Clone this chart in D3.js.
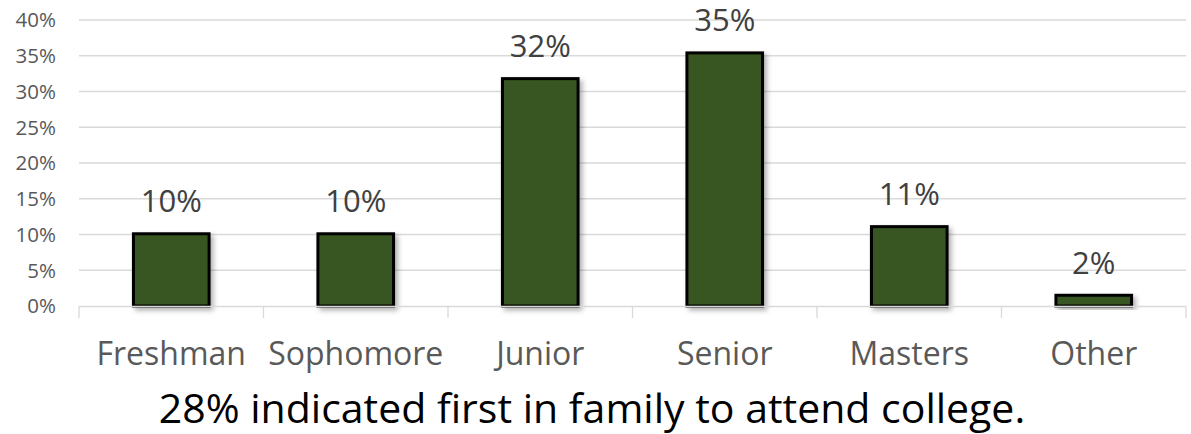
<!DOCTYPE html>
<html><head><meta charset="utf-8">
<script src="https://cdn.jsdelivr.net/npm/d3@7"></script>
<style>body{margin:0;background:#fff}svg{display:block}</style>
</head><body>
<svg id="chart" width="1191" height="434"></svg>
<script>
const categories = ["Freshman","Sophomore","Junior","Senior","Masters","Other"];
const values = [10.1, 10.1, 31.8, 35.4, 11.1, 1.5];
const yTicks = [0,5,10,15,20,25,30,35,40];
const caption = "28% indicated first in family to attend college.";

(function(){
const svg = d3.select("#chart");
const font = "'Open Sans', sans-serif";
const mLeft = 79, mRight = 1186, mTop = 20, mBottom = 306;
const x = d3.scaleBand().domain(categories).range([mLeft, mRight]).paddingInner(0.59).paddingOuter(0.295);
const y = d3.scaleLinear().domain([0, 40]).range([mBottom, mTop]);

const defs = svg.append("defs");
const f = defs.append("filter").attr("id","sh").attr("x","-20%").attr("y","-20%").attr("width","150%").attr("height","150%");
f.append("feDropShadow").attr("dx",3).attr("dy",3).attr("stdDeviation",2.5).attr("flood-color","#000").attr("flood-opacity",0.3);

svg.append("g").selectAll("line").data(yTicks.filter(d=>d>0)).join("line")
  .attr("x1", mLeft).attr("x2", mRight).attr("y1", d=>y(d)).attr("y2", d=>y(d))
  .attr("stroke","#d9d9d9").attr("stroke-width",1.3);

svg.append("g").selectAll("text").data(yTicks).join("text")
  .attr("x", 56).attr("y", d=>y(d)).attr("dy","0.36em").attr("text-anchor","end")
  .attr("font-family", font).attr("font-size", 20.5).attr("fill","#595959")
  .text(d=>d+"%");

const bw = x.bandwidth();
svg.append("g").selectAll("rect").data(values).join("rect")
  .attr("x", (d,i)=>x(categories[i])).attr("width", bw)
  .attr("y", d=>y(d)).attr("height", d=>mBottom - y(d))
  .attr("fill","#385723").attr("stroke","#000").attr("stroke-width",3)
  .attr("filter","url(#sh)");

const step = x.step();
svg.append("line").attr("x1",mLeft).attr("x2",mRight).attr("y1",mBottom+0.5).attr("y2",mBottom+0.5)
  .attr("stroke","#d9d9d9").attr("stroke-width",1.3);
const tickPos = d3.range(categories.length+1).map(i=>mLeft + i*step);
svg.append("g").selectAll("line").data(tickPos).join("line")
  .attr("x1",d=>d).attr("x2",d=>d).attr("y1",mBottom).attr("y2",mBottom+12)
  .attr("stroke","#d9d9d9").attr("stroke-width",1.3);

svg.append("g").selectAll("text").data(values).join("text")
  .attr("x",(d,i)=>x(categories[i])+bw/2).attr("y", d=>y(d)-21.5)
  .attr("text-anchor","middle").attr("font-family",font).attr("font-size",31).attr("fill","#404040")
  .text(d=>Math.round(d)+"%");

svg.append("g").selectAll("text").data(categories).join("text")
  .attr("x", d=>x(d)+bw/2).attr("y", 365).attr("text-anchor","middle")
  .attr("font-family",font).attr("font-size",32).attr("fill","#595959")
  .text(d=>d);

svg.append("text").attr("x", 592).attr("y", 423).attr("text-anchor","middle")
  .attr("font-family",font).attr("font-size",41).attr("fill","#000")
  .text(caption);
})();
</script>
</body></html>
